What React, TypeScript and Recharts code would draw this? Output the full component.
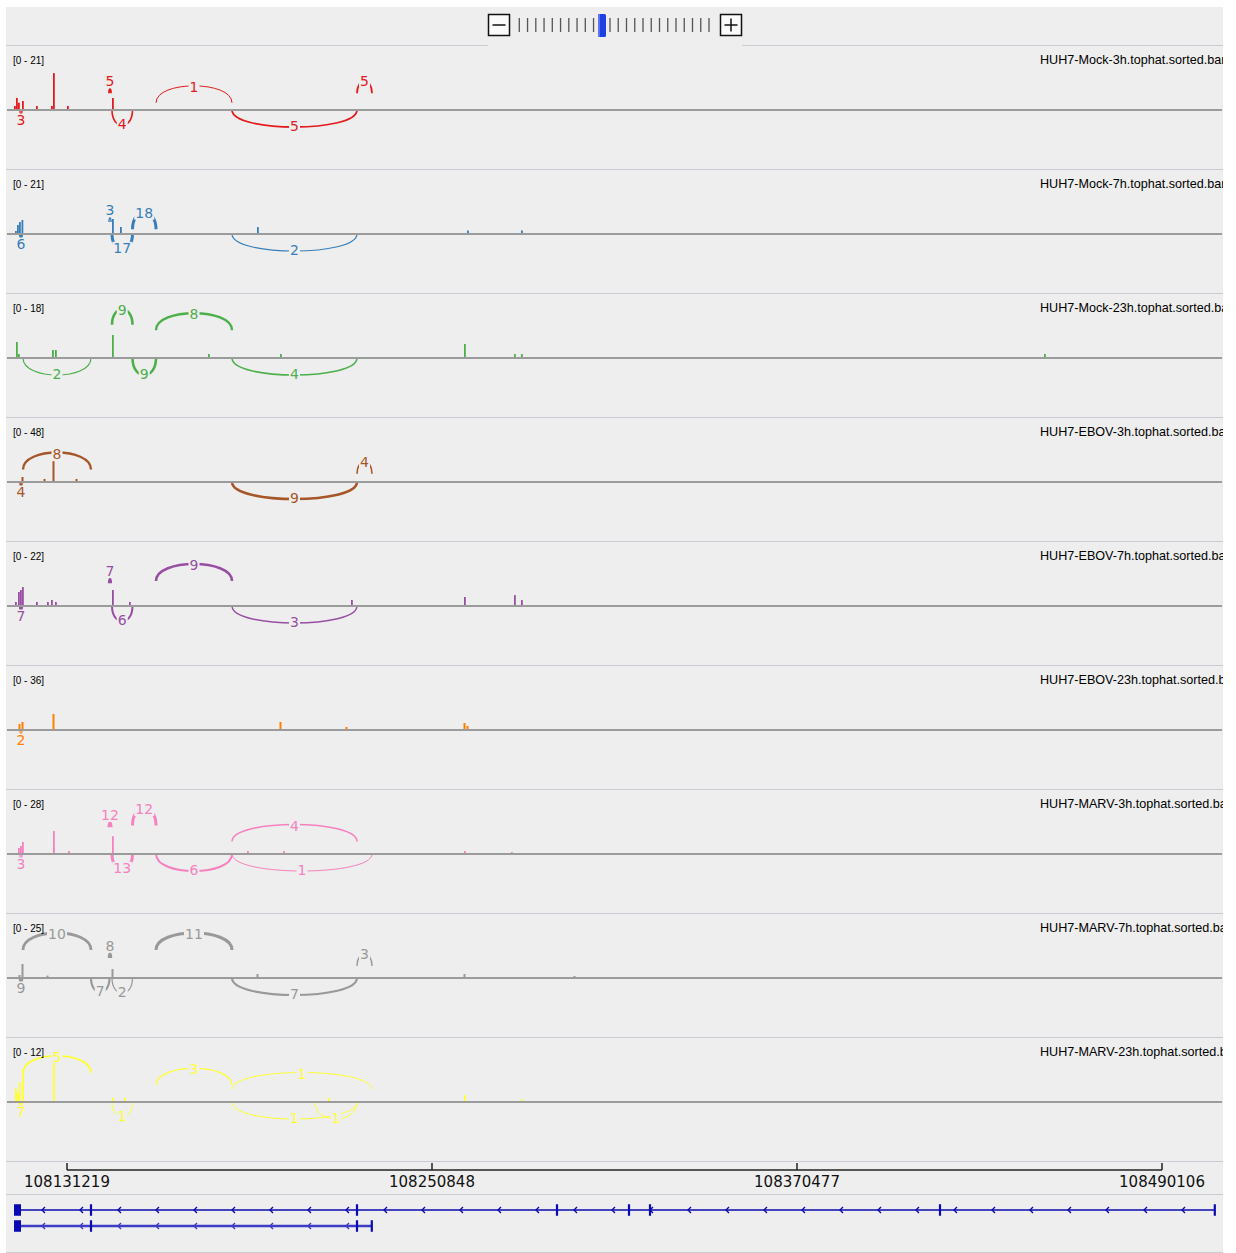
import React from 'react';
import { ComposedChart, Bar, XAxis, YAxis, ReferenceLine, ReferenceArea } from 'recharts';

// genomic window shared by every panel
const G_START = 108111554;
const G_END = 108509771;
const AXIS_TICKS = [108131219, 108250848, 108370477, 108490106];

const TRACK_NAMES = [
  'HUH7-Mock-3h.tophat.sorted.bam',
  'HUH7-Mock-7h.tophat.sorted.bam',
  'HUH7-Mock-23h.tophat.sorted.bam',
  'HUH7-EBOV-3h.tophat.sorted.bam',
  'HUH7-EBOV-7h.tophat.sorted.bam',
  'HUH7-EBOV-23h.tophat.sorted.bam',
  'HUH7-MARV-3h.tophat.sorted.bam',
  'HUH7-MARV-7h.tophat.sorted.bam',
  'HUH7-MARV-23h.tophat.sorted.bam',
];
const TRACK_MAX = [21, 21, 18, 48, 22, 36, 28, 25, 12];
const TRACK_COLORS = ['#e41a1c', '#377eb8', '#4daf4a', '#a65628', '#984ea3', '#ff7f00', '#f781bf', '#999999', '#ffff33'];

// coverage: [position, depth]
type Cov = [number, number];
const COV_MOCK_3H: Cov[] = [[108114176, 1.7], [108114832, 5], [108115487, 3], [108116798, 3.8], [108121387, 1.7], [108126303, 1.7], [108126958, 15.5], [108131547, 1.7], [108146296, 5]];
const COV_MOCK_7H: Cov[] = [[108114504, 1.3], [108115159, 3.8], [108115815, 5], [108116634, 5.9], [108146296, 6.3], [108148918, 2.9], [108193819, 2.9], [108262647, 1.5], [108280345, 1.5]];
const COV_MOCK_23H: Cov[] = [[108114832, 5.8], [108115487, 1.4], [108126631, 2.9], [108127614, 2.9], [108146296, 8.3], [108177760, 1.4], [108201358, 1.4], [108261664, 5], [108278051, 1.4], [108280345, 1.4], [108451759, 1.4]];
const COV_EBOV_3H: Cov[] = [[108116798, 4.8], [108124009, 2.9], [108126958, 20], [108134497, 2.9]];
const COV_EBOV_7H: Cov[] = [[108114504, 1.8], [108115487, 6.2], [108116143, 7], [108116798, 8.4], [108121387, 1.8], [108124992, 1.8], [108126303, 2.6], [108127614, 1.8], [108146296, 7], [108151867, 1.8], [108224628, 2.6], [108261664, 4], [108278051, 4.8], [108280345, 2.6]];
const COV_EBOV_23H: Cov[] = [[108115815, 4.3], [108116798, 5.8], [108126958, 11.5], [108201358, 5.8], [108222989, 2.2], [108261664, 5], [108262647, 2.9]];
const COV_MARV_3H: Cov[] = [[108115487, 3.4], [108116143, 4.5], [108116798, 6.7], [108126958, 12.9], [108131875, 1.7], [108146296, 10], [108190542, 1.7], [108202341, 1.7], [108261664, 1.7], [108277068, 1.1]];
const COV_MARV_7H: Cov[] = [[108115815, 1.5], [108116798, 7], [108124992, 1.2], [108146296, 4.5], [108193819, 2], [108261664, 2], [108297716, 1]];
const COV_MARV_23H: Cov[] = [[108114504, 3.4], [108115159, 2.2], [108115815, 4.8], [108116798, 7.7], [108126958, 9.4], [108146296, 1], [108150229, 1], [108217090, 1], [108261664, 1.7], [108280345, 0.7]];

// junctions: [start, end, reads, side (1 above / -1 below), depth at the arc foot]
type Junc = [number, number, number, number, number];
const JUNC_MOCK_3H: Junc[] = [
  [108115815, 108116470, 3, -1, 0], [108144985, 108145640, 5, 1, 7], [108145968, 108152687, 4, -1, 0],
  [108160389, 108185298, 1, 1, 3], [108185298, 108226267, 5, -1, 0], [108226267, 108231183, 5, 1, 7],
];
const JUNC_MOCK_7H: Junc[] = [
  [108115815, 108116470, 6, -1, 0], [108144985, 108145640, 3, 1, 5], [108145968, 108152687, 17, -1, 0],
  [108152687, 108160389, 18, 1, 2], [108185298, 108226267, 2, -1, 0],
];
const JUNC_MOCK_23H: Junc[] = [
  [108116798, 108139085, 2, -1, 0], [108145968, 108152687, 9, 1, 12], [108152687, 108160389, 9, -1, 0],
  [108160389, 108185298, 8, 1, 10], [108185298, 108226267, 4, -1, 0],
];
const JUNC_EBOV_3H: Junc[] = [
  [108115815, 108116470, 4, -1, 0], [108116798, 108139085, 8, 1, 12], [108185298, 108226267, 9, -1, 0],
  [108226267, 108231183, 4, 1, 8],
];
const JUNC_EBOV_7H: Junc[] = [
  [108115815, 108116470, 7, -1, 0], [108144985, 108145640, 7, 1, 10], [108145968, 108152687, 6, -1, 0],
  [108160389, 108185298, 9, 1, 11], [108185298, 108226267, 3, -1, 0],
];
const JUNC_EBOV_23H: Junc[] = [[108115815, 108116470, 2, -1, 0]];
const JUNC_MARV_3H: Junc[] = [
  [108115815, 108116470, 3, -1, 0], [108144985, 108145640, 12, 1, 15], [108145968, 108152687, 13, -1, 0],
  [108152687, 108160389, 12, 1, 16], [108160389, 108185298, 6, -1, 0], [108185298, 108226267, 4, 1, 7],
  [108185298, 108231183, 1, -1, 0],
];
const JUNC_MARV_7H: Junc[] = [
  [108115815, 108116470, 9, -1, 0], [108116798, 108139085, 10, 1, 14], [108144985, 108145640, 8, 1, 10],
  [108139085, 108145148, 7, -1, 0], [108145968, 108152687, 2, -1, 0], [108160389, 108185298, 11, 1, 14],
  [108185298, 108226267, 7, -1, 0], [108226267, 108231183, 3, 1, 6],
];
const JUNC_MARV_23H: Junc[] = [
  [108115815, 108116470, 7, -1, 0], [108116798, 108139085, 5, 1, 7], [108145968, 108152687, 1, -1, 0],
  [108160389, 108185298, 3, 1, 4], [108185298, 108231183, 1, 1, 3], [108185298, 108226267, 1, -1, 0],
  [108212501, 108226267, 1, -1, 0],
];

const COVERAGE = [COV_MOCK_3H, COV_MOCK_7H, COV_MOCK_23H, COV_EBOV_3H, COV_EBOV_7H, COV_EBOV_23H, COV_MARV_3H, COV_MARV_7H, COV_MARV_23H];
const JUNCTIONS = [JUNC_MOCK_3H, JUNC_MOCK_7H, JUNC_MOCK_23H, JUNC_EBOV_3H, JUNC_EBOV_7H, JUNC_EBOV_23H, JUNC_MARV_3H, JUNC_MARV_7H, JUNC_MARV_23H];

// gene models
const TX1_SPAN = [108113848, 108507476];
const TX1_EXONS: [number, number][] = [
  [108113848, 108116143], [108139020, 108139150], [108226200, 108226330], [108291750, 108291880],
  [108315350, 108315480], [108322230, 108322360], [108417280, 108417410], [108507346, 108507476],
];
const TX2_SPAN = [108113848, 108231183];
const TX2_EXONS: [number, number][] = [
  [108113848, 108116143], [108139020, 108139150], [108226200, 108226330], [108231053, 108231183],
];

const BG = '#eeeeee';
const SEP = '#cbcbd3';
const TRACK_H = 124;
const HEADER_H = 38;

const arcShape = (count: number, side: number, color: string) => (p: any) => {
  if (p.x == null || p.y == null) return <g />;
  const w = Math.max(p.width || 0, 1.5);
  const x0 = p.x;
  const x1 = x0 + w;
  const y0 = p.y;
  const rise = Math.min(17, 3 + w * 0.6);
  const dir = -side;
  const ctrl = y0 + (dir * rise) / 0.75;
  const apex = y0 + dir * rise;
  const ly = apex + dir * Math.max(-1, (side > 0 ? 12 : 10) - rise);
  const cx = x0 + w / 2;
  const label = String(count);
  const lw = label.length * 9 + 2;
  return (
    <g>
      <path
        d={`M${x0},${y0} C${x0},${ctrl} ${x1},${ctrl} ${x1},${y0}`}
        fill="none"
        stroke={color}
        strokeWidth={Math.min(3, 0.8 + count * 0.2)}
      />
      <rect x={cx - lw / 2} y={ly - 6.5} width={lw} height={13} fill={BG} />
      <text x={cx} y={ly + 5} textAnchor="middle" fontSize={14} fontFamily="DejaVu Sans, sans-serif" fill={color}>
        {label}
      </text>
    </g>
  );
};

const Track = ({ idx }: { idx: number }) => {
  const max = TRACK_MAX[idx];
  const color = TRACK_COLORS[idx];
  const data = COVERAGE[idx].map(([pos, v]) => ({ pos, v }));
  return (
    <div style={{ position: 'absolute', left: 0, top: HEADER_H + idx * TRACK_H, width: 1217, height: TRACK_H }}>
      {idx > 0 && <div style={{ position: 'absolute', left: 0, top: 0, width: 1217, height: 1, background: SEP }} />}
      <div style={{ position: 'absolute', left: 1, top: 0 }}>
        <ComposedChart
          width={1215}
          height={TRACK_H}
          data={data}
          margin={{ top: 15, right: 0, bottom: 0, left: 0 }}
          style={{ overflow: 'visible' }}
        >
          <XAxis type="number" dataKey="pos" domain={[G_START, G_END]} hide allowDataOverflow />
          <YAxis type="number" domain={[(-max * 59) / 50, max]} hide allowDataOverflow />
          <ReferenceLine y={0} stroke="#9b9b9b" strokeWidth={2} />
          <Bar dataKey="v" fill={color} barSize={2} isAnimationActive={false} />
          {JUNCTIONS[idx].map(([s, e, n, side, foot], k) => (
            <ReferenceArea
              key={k}
              x1={s}
              x2={e}
              y1={foot}
              y2={foot}
              ifOverflow="visible"
              shape={arcShape(n, side, color)}
            />
          ))}
        </ComposedChart>
      </div>
      <div style={{ position: 'absolute', left: 7, top: 10, fontFamily: 'Liberation Sans, Arial, sans-serif', fontSize: 10, lineHeight: '12px', color: '#000' }}>
        [0 - {max}]
      </div>
      <div style={{ position: 'absolute', left: 1034, top: 8, fontFamily: 'Liberation Sans, Arial, sans-serif', fontSize: 12.6, lineHeight: '14px', color: '#000', whiteSpace: 'nowrap' }}>
        {TRACK_NAMES[idx]}
      </div>
    </div>
  );
};

const ZoomWidget = () => {
  const ticks: number[] = [];
  for (let k = 0; k < 10; k++) ticks.push(513.3 + 8.25 * k);
  for (let k = 0; k < 13; k++) ticks.push(604 + 8.25 * k);
  return (
    <svg width={1217} height={40} style={{ position: 'absolute', left: 0, top: 0 }}>
      <line x1={0} x2={482} y1={38.5} y2={38.5} stroke={SEP} />
      <line x1={736} x2={1217} y1={38.5} y2={38.5} stroke={SEP} />
      <rect x={482.5} y={7.5} width={21} height={21} fill="#fafafa" stroke="#111" strokeWidth={1.5} />
      <line x1={486.5} x2={499.5} y1={18} y2={18} stroke="#111" strokeWidth={1.5} />
      {ticks.map((t, i) => (
        <line key={i} x1={t} x2={t} y1={11} y2={25} stroke="#555" strokeWidth={1.3} />
      ))}
      <rect x={592} y={7} width={8} height={23} rx={1.5} fill="#1e3fe2" />
      <rect x={592} y={7} width={2} height={23} fill="#5a74f0" />
      <rect x={714.5} y={7.5} width={21} height={21} fill="#fafafa" stroke="#111" strokeWidth={1.5} />
      <line x1={718.5} x2={731.5} y1={18} y2={18} stroke="#111" strokeWidth={1.5} />
      <line x1={725} x2={725} y1={11.5} y2={24.5} stroke="#111" strokeWidth={1.5} />
    </svg>
  );
};

const AxisTick = ({ x, y, payload }: any) => (
  <g>
    <line x1={x} x2={x} y1={y - 7} y2={y} stroke="#222" strokeWidth={1.5} />
    <text x={x} y={y + 17} textAnchor="middle" fontFamily="DejaVu Sans, sans-serif" fontSize={15} fill="#111">
      {payload.value}
    </text>
  </g>
);

const intronShape = (color: string, width: number) => (p: any) => {
  if (p.x == null || p.y == null) return <g />;
  const x0 = p.x;
  const x1 = p.x + p.width;
  const y = p.y;
  const arrows: number[] = [];
  for (let a = x0 + 29; a < x1 - 6; a += 38) arrows.push(a);
  return (
    <g>
      <line x1={x0} x2={x1} y1={y} y2={y} stroke={color} strokeWidth={width} />
      {arrows.map((a, i) => (
        <path key={i} d={`M${a + 2},${y - 3} L${a - 1},${y} L${a + 2},${y + 3}`} fill="none" stroke={color} strokeWidth={1.4} />
      ))}
    </g>
  );
};

const exonShape = (color: string) => (p: any) => {
  if (p.x == null || p.y == null) return <g />;
  const w = Math.max(p.width, 2.2);
  return <rect x={p.x + p.width / 2 - w / 2} y={p.y} width={w} height={p.height} fill={color} />;
};

const GeneTrack = () => {
  const rows = [
    { span: TX1_SPAN, exons: TX1_EXONS, color: '#0b0bb2', line: 1.6 },
    { span: TX2_SPAN, exons: TX2_EXONS, color: '#3c3cc6', line: 2.4 },
  ];
  const data = AXIS_TICKS.map((pos) => ({ pos }));
  return (
    <ComposedChart width={1215} height={57} data={data} margin={{ top: 7, right: 0, bottom: 10, left: 0 }}>
      <XAxis type="number" dataKey="pos" domain={[G_START, G_END]} hide allowDataOverflow />
      <YAxis type="number" domain={[0, 2.5]} reversed hide allowDataOverflow />
      {rows.map((r, i) => (
        <ReferenceArea
          key={`t${i}`}
          x1={r.span[0]}
          x2={r.span[1]}
          y1={i + 0.5}
          y2={i + 0.5}
          ifOverflow="visible"
          shape={intronShape(r.color, r.line)}
        />
      ))}
      {rows.map((r, i) =>
        r.exons.map(([s, e], k) => (
          <ReferenceArea
            key={`e${i}-${k}`}
            x1={s}
            x2={e}
            y1={i + 0.14}
            y2={i + 0.86}
            ifOverflow="visible"
            shape={exonShape('#0a0ab4')}
          />
        )),
      )}
    </ComposedChart>
  );
};

const AxisPanel = () => {
  const data = AXIS_TICKS.map((pos) => ({ pos }));
  return (
    <ComposedChart width={1215} height={33} data={data} margin={{ top: 2, right: 0, bottom: 0, left: 0 }}>
      <XAxis
        type="number"
        dataKey="pos"
        domain={[G_START, G_END]}
        ticks={AXIS_TICKS}
        tick={<AxisTick />}
        tickLine={false}
        axisLine={false}
        tickSize={0}
        tickMargin={0}
        height={24}
        interval={0}
        allowDataOverflow
      />
      <YAxis type="number" domain={[0, 1]} hide allowDataOverflow />
      <ReferenceLine
        segment={[{ x: AXIS_TICKS[0], y: 0 }, { x: AXIS_TICKS[AXIS_TICKS.length - 1], y: 0 }]}
        stroke="#222"
        strokeWidth={1.5}
        ifOverflow="visible"
      />
    </ComposedChart>
  );
};

export default function App() {
  const axisTop = HEADER_H + 9 * TRACK_H;
  return (
    <div
      style={{
        position: 'absolute',
        left: 6,
        top: 7,
        width: 1217,
        height: 1246,
        background: BG,
        overflow: 'hidden',
      }}
    >
      <ZoomWidget />
      {TRACK_NAMES.map((_, i) => (
        <Track key={i} idx={i} />
      ))}
      <div style={{ position: 'absolute', left: 0, top: axisTop, width: 1217, height: 1, background: SEP }} />
      <div style={{ position: 'absolute', left: 1, top: axisTop }}>
        <AxisPanel />
      </div>
      <div style={{ position: 'absolute', left: 0, top: axisTop + 33, width: 1217, height: 1, background: SEP }} />
      <div style={{ position: 'absolute', left: 1, top: axisTop + 34 }}>
        <GeneTrack />
      </div>
      <div style={{ position: 'absolute', left: 0, top: 1245, width: 1217, height: 1, background: SEP }} />
    </div>
  );
}
